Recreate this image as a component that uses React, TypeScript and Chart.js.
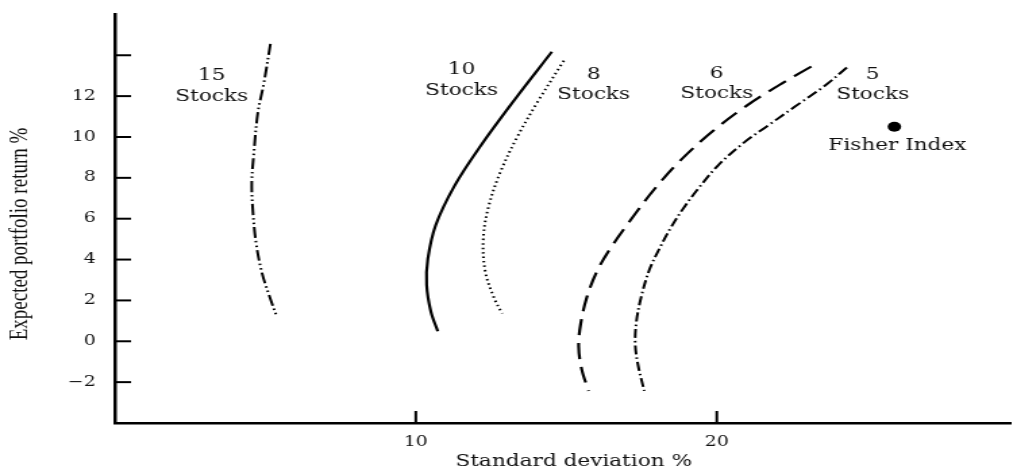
import React, { useEffect, useRef } from 'react';
import { Chart, registerables } from 'chart.js';

Chart.register(...registerables);

// ---- data ----
const yTickValues = [-2, 0, 2, 4, 6, 8, 10, 12, 14];
const yTickLabels = ['−2', '0', '2', '4', '6', '8', '10', '12', ''];
const xTickValues = [10, 20];
const xTickLabels = ['10', '20'];

const xTitle = 'Standard deviation %';
const yTitle = 'Expected portfolio return %';

const stocks15 = [
  { x: 5.17, y: 14.56 }, { x: 4.95, y: 12.62 }, { x: 4.75, y: 11.17 }, { x: 4.62, y: 9.22 },
  { x: 4.55, y: 7.77 }, { x: 4.59, y: 6.31 }, { x: 4.69, y: 4.85 }, { x: 4.88, y: 3.4 },
  { x: 5.12, y: 2.28 }, { x: 5.38, y: 1.21 },
];
const stocks10 = [
  { x: 14.52, y: 14.17 }, { x: 13.27, y: 11.8 }, { x: 12.15, y: 9.56 }, { x: 11.29, y: 7.62 },
  { x: 10.66, y: 5.68 }, { x: 10.4, y: 4.03 }, { x: 10.36, y: 2.77 }, { x: 10.5, y: 1.46 },
  { x: 10.73, y: 0.49 },
];
const stocks8 = [
  { x: 14.92, y: 13.74 }, { x: 14.06, y: 11.75 }, { x: 13.37, y: 10.0 }, { x: 12.8, y: 8.25 },
  { x: 12.41, y: 6.55 }, { x: 12.24, y: 5.0 }, { x: 12.31, y: 3.4 }, { x: 12.61, y: 2.09 },
  { x: 12.87, y: 1.36 },
];
const stocks6 = [
  { x: 23.14, y: 13.45 }, { x: 22.05, y: 12.52 }, { x: 20.96, y: 11.5 }, { x: 19.87, y: 10.29 },
  { x: 18.81, y: 8.88 }, { x: 17.89, y: 7.38 }, { x: 17.13, y: 5.92 }, { x: 16.47, y: 4.56 },
  { x: 16.01, y: 3.4 }, { x: 15.68, y: 2.14 }, { x: 15.48, y: 0.87 }, { x: 15.41, y: -0.24 },
  { x: 15.51, y: -1.36 }, { x: 15.74, y: -2.43 },
];
const stocks5 = [
  { x: 24.32, y: 13.4 }, { x: 23.6, y: 12.52 }, { x: 22.61, y: 11.5 }, { x: 21.72, y: 10.58 },
  { x: 20.89, y: 9.71 }, { x: 20.03, y: 8.59 }, { x: 19.41, y: 7.52 }, { x: 18.91, y: 6.55 },
  { x: 18.48, y: 5.58 }, { x: 18.12, y: 4.61 }, { x: 17.76, y: 3.5 }, { x: 17.49, y: 2.18 },
  { x: 17.33, y: 0.97 }, { x: 17.29, y: -0.15 }, { x: 17.39, y: -1.21 }, { x: 17.59, y: -2.43 },
];
const fisherIndex = [{ x: 25.9, y: 10.5 }];

const labelTexts = [
  ['15', 'Stocks'],
  ['10', 'Stocks'],
  ['8', 'Stocks'],
  ['6', 'Stocks'],
  ['5', 'Stocks'],
  ['Fisher Index'],
];
const labelX = [3.22, 11.52, 15.91, 20.0, 25.18, 26.0];
const labelY = [12.77, 13.06, 12.86, 12.91, 12.86, 9.37];

// ---- layout ----
const PAGE_W = 1017;
const PAGE_H = 470;
const STRETCH = 1.35;
const CANVAS_W = Math.round(PAGE_W / STRETCH);

const decorPlugin = {
  id: 'decor',
  afterDraw(chart: any) {
    const { ctx, chartArea, scales } = chart;
    const xs = scales.x;
    const ys = scales.y;
    ctx.save();
    ctx.strokeStyle = '#000';
    ctx.lineWidth = 2;
    yTickValues.forEach((v) => {
      const py = ys.getPixelForValue(v);
      ctx.beginPath();
      ctx.moveTo(chartArea.left, py);
      ctx.lineTo(chartArea.left + 12, py);
      ctx.stroke();
    });
    xTickValues.forEach((v) => {
      const px = xs.getPixelForValue(v);
      ctx.beginPath();
      ctx.moveTo(px, chartArea.bottom);
      ctx.lineTo(px, chartArea.bottom - 12);
      ctx.stroke();
    });

    ctx.fillStyle = '#111';
    ctx.font = '16px "DejaVu Serif"';
    ctx.textAlign = 'center';
    ctx.textBaseline = 'alphabetic';
    labelTexts.forEach((lines, i) => {
      const px = xs.getPixelForValue(labelX[i]);
      const py = ys.getPixelForValue(labelY[i]);
      lines.forEach((t, j) => ctx.fillText(t, px, py + j * 20.5));
    });

    // axis titles
    ctx.font = '16px "DejaVu Serif"';
    ctx.fillText(xTitle, 424.8, 466);
    ctx.save();
    ctx.translate(15.3, 234);
    ctx.rotate(-Math.PI / 2);
    ctx.font = '19px "Liberation Serif"';
    ctx.textBaseline = 'middle';
    ctx.fillText(yTitle, 0, 0);
    ctx.restore();
    ctx.restore();
  },
};

function line(data: any[], dash: number[], width: number) {
  return {
    data,
    showLine: true,
    borderColor: '#000',
    backgroundColor: '#000',
    borderWidth: width,
    borderDash: dash,
    pointRadius: 0,
    tension: 0.35,
    fill: false,
  };
}

export default function App() {
  const ref = useRef<HTMLCanvasElement | null>(null);

  useEffect(() => {
    if (!ref.current) return;
    const tickFont = { family: 'DejaVu Serif', size: 14 };
    const chart = new Chart(ref.current, {
      type: 'scatter',
      data: {
        datasets: [
          line(stocks15, [11, 3, 1.5, 3, 1.5, 3], 2),
          line(stocks10, [], 2.2),
          line(stocks8, [1.5, 3], 2),
          line(stocks6, [16, 8], 2.2),
          line(stocks5, [9, 3, 1.5, 3], 2),
          {
            data: fisherIndex,
            showLine: false,
            pointRadius: 5,
            pointBackgroundColor: '#000',
            pointBorderColor: '#000',
            pointBorderWidth: 0,
          },
        ] as any,
      },
      options: {
        animation: false,
        responsive: false,
        maintainAspectRatio: false,
        devicePixelRatio: 1,
        layout: { padding: { top: 10, right: 0, left: 0, bottom: 0 } },
        plugins: { legend: { display: false }, tooltip: { enabled: false } },
        scales: {
          x: {
            type: 'linear',
            min: 0,
            max: 29.75,
            afterFit: (s: any) => { s.height = 47; },
            afterBuildTicks: (s: any) => { s.ticks = xTickValues.map((v) => ({ value: v })); },
            grid: { display: false },
            border: { display: true, color: '#000', width: 2.5 },
            ticks: {
              color: '#111',
              font: tickFont,
              padding: 3,
              maxRotation: 0,
              autoSkip: false,
              callback: (_v: any, i: number) => xTickLabels[i],
            },
          },
          y: {
            type: 'linear',
            min: -4,
            max: 16,
            afterFit: (s: any) => { s.width = 85; },
            afterBuildTicks: (s: any) => { s.ticks = yTickValues.map((v) => ({ value: v })); },
            grid: { display: false },
            border: { display: true, color: '#000', width: 2.5 },
            ticks: {
              color: '#111',
              font: tickFont,
              padding: 6,
              autoSkip: false,
              callback: (_v: any, i: number) => yTickLabels[i],
            },
          },
        },
      } as any,
      plugins: [decorPlugin],
    });
    return () => chart.destroy();
  }, []);

  return (
    <div style={{ position: 'fixed', left: 0, top: 0, width: PAGE_W, height: PAGE_H, background: '#fff' }}>
      <canvas
        ref={ref}
        width={CANVAS_W}
        height={PAGE_H}
        style={{ width: PAGE_W + 'px', height: PAGE_H + 'px', display: 'block' }}
      />
    </div>
  );
}
